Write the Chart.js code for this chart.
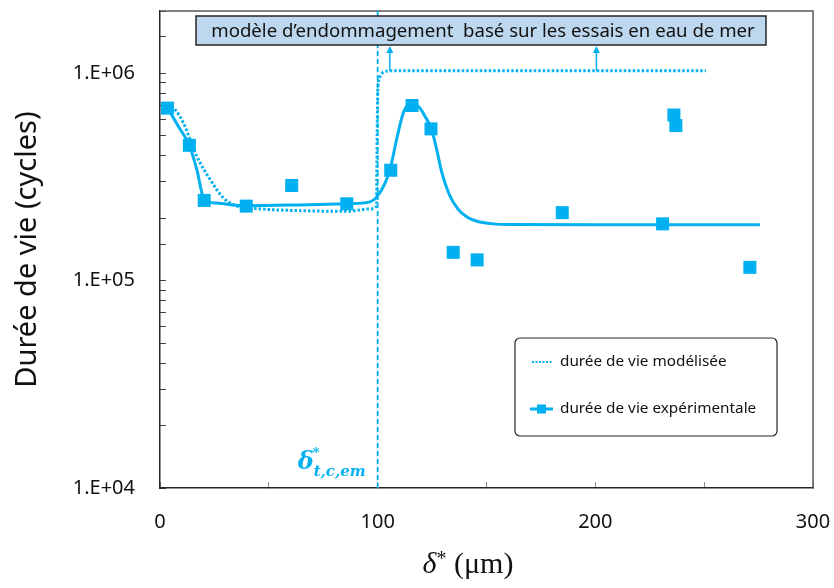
<!DOCTYPE html>
<html>
<head>
<meta charset="utf-8">
<script src="https://cdn.jsdelivr.net/npm/chart.js@4/dist/chart.umd.min.js"></script>
<style>
  html, body { margin: 0; padding: 0; background: #fff; }
</style>
</head>
<body>
<canvas id="lifeChart" width="834" height="588"></canvas>
<script>
// Experimental fatigue lives (squares)
const expX = [3.4, 13.5, 20.3, 39.6, 60.5, 85.8, 106, 115.8, 124.5, 134.7, 145.7, 184.8, 230.9, 236.1, 237, 271];
const expY = [6.8e5, 4.5e5, 2.44e5, 2.29e5, 2.88e5, 2.35e5, 3.41e5, 7.0e5, 5.4e5, 1.37e5, 1.26e5, 2.13e5, 1.88e5, 6.3e5, 5.6e5, 1.16e5];

// Trend curve through the experimental lives
const fitX = [3.4, 8.4, 13.5, 16.9, 20.3, 26, 39.6, 64, 85.8, 96.5, 99.5, 103.4, 105.7, 108.7, 111.8, 114.8, 118.6, 121.7, 124.8, 127.1, 129.4, 132.8, 136.8, 141, 146, 152, 160, 200, 275.6];
const fitY = [6.85e5, 5.56e5, 4.49e5, 3.44e5, 2.47e5, 2.37e5, 2.30e5, 2.32e5, 2.35e5, 2.40e5, 2.53e5, 2.96e5, 3.44e5, 4.8e5, 6.46e5, 7.08e5, 6.95e5, 6.22e5, 5.36e5, 4.30e5, 3.35e5, 2.62e5, 2.22e5, 2.03e5, 1.93e5, 1.885e5, 1.865e5, 1.86e5, 1.86e5];

// Modelled life (dotted)
const modelX = [3.4, 6.9, 10.7, 16.9, 23, 29.1, 35.2, 45.9, 70, 85.8, 96.5, 99.5, 99.7, 100.1, 101, 102.4, 106.6, 150, 200, 250.8];
const modelY = [7.1e5, 6.7e5, 5.78e5, 3.98e5, 3.08e5, 2.51e5, 2.29e5, 2.22e5, 2.17e5, 2.16e5, 2.22e5, 2.29e5, 4.3e5, 8.4e5, 9.6e5, 1.01e6, 1.03e6, 1.03e6, 1.03e6, 1.03e6];

// Threshold delta*_t,c,em
const thresholdX = [100, 100];
const thresholdY = [1e4, 2e6];

// Arrows pointing to the annotation box
const arrowX = [105.6, 200.5];

const xTickLabels = [0, 100, 200, 300];
const blue = '#00B0F0';

function toPoints(xs, ys) {
    return xs.map((x, i) => ({ x: x, y: ys[i] }));
}

// Plot frame (top and right sides)
const framePlugin = {
    id: 'frame',
    beforeDatasetsDraw(chart) {
        const { ctx, chartArea: a } = chart;
        ctx.save();
        ctx.strokeStyle = '#595959';
        ctx.lineWidth = 1.5;
        ctx.beginPath();
        ctx.moveTo(a.left, a.top);
        ctx.lineTo(a.right, a.top);
        ctx.lineTo(a.right, a.bottom);
        ctx.stroke();
        ctx.restore();
    }
};

// Annotation box, arrows, threshold label, x title and legend
const overlayPlugin = {
    id: 'overlay',
    afterDatasetsDraw(chart) {
        const { ctx } = chart;
        const xs = chart.scales.x;
        const ys = chart.scales.y;
        ctx.save();

        // annotation box
        const bx = 196, by = 16, bw = 570, bh = 29;
        ctx.fillStyle = '#BDD7EE';
        ctx.fillRect(bx, by, bw, bh);
        ctx.strokeStyle = '#262626';
        ctx.lineWidth = 1.5;
        ctx.strokeRect(bx, by, bw, bh);
        ctx.fillStyle = '#111';
        ctx.font = '18.6px "Noto Sans"';
        ctx.textAlign = 'center';
        ctx.textBaseline = 'middle';
        ctx.fillText('modèle d’endommagement  basé sur les essais en eau de mer', bx + bw / 2 + 2, by + bh / 2 + 1);

        // arrows from the model plateau to the box
        const plateau = ys.getPixelForValue(modelY[modelY.length - 1]);
        ctx.strokeStyle = blue;
        ctx.fillStyle = blue;
        ctx.lineWidth = 1.5;
        arrowX.forEach(v => {
            const px = xs.getPixelForValue(v);
            ctx.beginPath();
            ctx.moveTo(px, plateau);
            ctx.lineTo(px, by + bh + 6);
            ctx.stroke();
            ctx.beginPath();
            ctx.moveTo(px, by + bh + 1);
            ctx.lineTo(px - 3.5, by + bh + 8);
            ctx.lineTo(px + 3.5, by + bh + 8);
            ctx.closePath();
            ctx.fill();
        });

        // threshold label
        const tx = xs.getPixelForValue(thresholdX[0]);
        ctx.textAlign = 'left';
        ctx.textBaseline = 'alphabetic';
        ctx.fillStyle = blue;
        ctx.font = 'bold italic 24px "DejaVu Serif"';
        ctx.fillText('δ', tx - 80, 469);
        ctx.font = 'bold 13px "DejaVu Serif"';
        ctx.fillText('*', tx - 65, 457);
        ctx.font = 'bold italic 15px "DejaVu Serif"';
        ctx.fillText('t,c,em', tx - 64, 476);

        // x axis title
        ctx.fillStyle = '#111';
        const parts = [
            { t: 'δ', f: 'italic 30px "Liberation Serif"', dy: 0 },
            { t: '*', f: '20px "Liberation Serif"', dy: -8 },
            { t: ' (μm)', f: '30px "Liberation Serif"', dy: 0 }
        ];
        let total = 0;
        parts.forEach(p => { ctx.font = p.f; p.w = ctx.measureText(p.t).width; total += p.w; });
        let cx = 468 - total / 2;
        parts.forEach(p => {
            ctx.font = p.f;
            ctx.fillText(p.t, cx, 573 + p.dy);
            cx += p.w;
        });

        // legend
        const lx = 515, ly = 338, lw = 262, lh = 98;
        ctx.beginPath();
        ctx.roundRect(lx, ly, lw, lh, 5);
        ctx.fillStyle = '#fff';
        ctx.fill();
        ctx.strokeStyle = '#262626';
        ctx.lineWidth = 1.2;
        ctx.stroke();

        ctx.strokeStyle = blue;
        ctx.lineWidth = 2;
        ctx.setLineDash([2, 1.5]);
        ctx.beginPath();
        ctx.moveTo(532, 362);
        ctx.lineTo(553, 362);
        ctx.stroke();
        ctx.setLineDash([]);

        ctx.lineWidth = 3;
        ctx.beginPath();
        ctx.moveTo(530, 409);
        ctx.lineTo(553, 409);
        ctx.stroke();
        ctx.fillStyle = blue;
        ctx.fillRect(537, 404.5, 9, 9);

        ctx.fillStyle = '#111';
        ctx.font = '15.3px "Noto Sans"';
        ctx.textBaseline = 'middle';
        ctx.fillText('durée de vie modélisée', 560, 362);
        ctx.fillText('durée de vie expérimentale', 560, 409);

        ctx.restore();
    }
};

const chart = new Chart(document.getElementById('lifeChart'), {
    type: 'line',
    data: {
        datasets: [
            {
                label: 'seuil',
                data: toPoints(thresholdX, thresholdY),
                borderColor: blue,
                borderWidth: 1.8,
                borderDash: [5, 3],
                pointRadius: 0,
                fill: false
            },
            {
                label: 'durée de vie modélisée',
                data: toPoints(modelX, modelY),
                borderColor: blue,
                borderWidth: 3,
                borderDash: [2.5, 2],
                pointRadius: 0,
                cubicInterpolationMode: 'monotone',
                fill: false
            },
            {
                label: 'tendance',
                data: toPoints(fitX, fitY),
                borderColor: blue,
                borderWidth: 3,
                pointRadius: 0,
                cubicInterpolationMode: 'monotone',
                fill: false
            },
            {
                label: 'durée de vie expérimentale',
                data: toPoints(expX, expY),
                showLine: false,
                pointStyle: 'rect',
                pointRadius: 9.2,
                pointBorderWidth: 0,
                pointBackgroundColor: blue,
                pointBorderColor: blue
            }
        ]
    },
    options: {
        responsive: false,
        animation: false,
        layout: { padding: { top: 11, right: 21, left: 0, bottom: 0 } },
        plugins: {
            legend: { display: false },
            tooltip: { enabled: false }
        },
        scales: {
            x: {
                type: 'linear',
                min: 0,
                max: 300,
                afterFit: scale => {
                    scale.height = 100;
                    scale.paddingLeft = 0;
                    scale.paddingRight = 0;
                },
                border: { display: true, color: '#262626', width: 1.5 },
                grid: { drawOnChartArea: false, drawTicks: true, tickLength: -6, color: '#8c8c8c', lineWidth: 1 },
                ticks: {
                    stepSize: 50,
                    autoSkip: false,
                    maxRotation: 0,
                    padding: 28,
                    color: '#111',
                    font: { family: 'Noto Sans', size: 20 },
                    callback: v => xTickLabels.includes(v) ? String(v) : ''
                }
            },
            y: {
                type: 'logarithmic',
                min: 1e4,
                max: 2e6,
                afterFit: scale => {
                    scale.width = 160;
                    scale.paddingTop = 0;
                    scale.paddingBottom = 0;
                },
                border: { display: true, color: '#262626', width: 1.5 },
                grid: { drawOnChartArea: false, drawTicks: true, tickLength: -6, color: '#404040', lineWidth: 1 },
                title: {
                    display: true,
                    text: 'Durée de vie (cycles)',
                    color: '#111',
                    font: { family: 'Noto Sans', size: 29 },
                    padding: { top: 10, bottom: 0 }
                },
                ticks: {
                    autoSkip: false,
                    padding: 31,
                    color: '#111',
                    font: { family: 'Noto Sans', size: 20 },
                    callback: v => {
                        const e = Math.log10(v);
                        if (Math.abs(e - Math.round(e)) > 1e-6) return '';
                        return '1.E+' + String(Math.round(e)).padStart(2, '0');
                    }
                }
            }
        }
    },
    plugins: [framePlugin, overlayPlugin]
});
</script>
</body>
</html>
